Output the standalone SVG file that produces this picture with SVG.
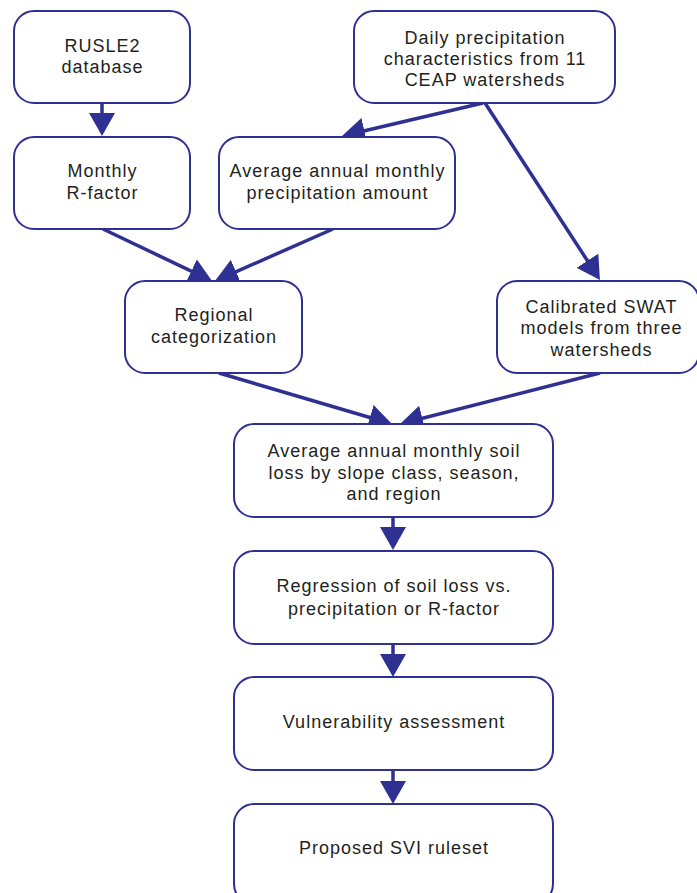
<svg xmlns="http://www.w3.org/2000/svg" width="697" height="893" viewBox="0 0 697 893">
<style>
.box{fill:#fff;stroke:#2e3192;stroke-width:2}
.lbl{font-family:"Liberation Sans",Arial,sans-serif;font-size:18px;letter-spacing:1px;fill:#231f20;text-anchor:middle}
.con{stroke:#2e3192;stroke-width:3.5;fill:none;marker-end:url(#ah)}
</style>
<defs>
<marker id="ah" viewBox="0 0 23 26" refX="15" refY="13" markerWidth="23" markerHeight="26" markerUnits="userSpaceOnUse" orient="auto">
<path d="M0,0 L23,13 L0,26 z" fill="#2e3192"/>
</marker>
</defs>
<rect width="697" height="893" fill="#fff"/>
<g id="connectors">
<line class="con" x1="102" y1="103" x2="102" y2="128"/>
<line class="con" x1="483" y1="103" x2="349.8" y2="134.2"/>
<line class="con" x1="485" y1="103" x2="595.6" y2="273.3"/>
<line class="con" x1="103" y1="229" x2="204.8" y2="277.6"/>
<line class="con" x1="333" y1="229" x2="222.3" y2="277.8"/>
<line class="con" x1="219" y1="373" x2="384.3" y2="421.7"/>
<line class="con" x1="600" y1="373" x2="407.8" y2="422"/>
<line class="con" x1="393" y1="517" x2="393" y2="542"/>
<line class="con" x1="393" y1="644" x2="393" y2="669"/>
<line class="con" x1="393" y1="771" x2="393" y2="796"/>
</g>
<g id="rusle2">
<rect class="box" x="14" y="11" width="176" height="92" rx="20"/>
<text class="lbl" x="102.5" y="52">RUSLE2</text>
<text class="lbl" x="102.5" y="73">database</text>
</g>
<g id="daily">
<rect class="box" x="354" y="11" width="261" height="92" rx="20"/>
<text class="lbl" x="485" y="44">Daily precipitation</text>
<text class="lbl" x="485" y="65">characteristics from 11</text>
<text class="lbl" x="485" y="86">CEAP watersheds</text>
</g>
<g id="rfactor">
<rect class="box" x="14" y="137" width="176" height="92" rx="20"/>
<text class="lbl" x="102.5" y="177">Monthly</text>
<text class="lbl" x="102.5" y="199">R-factor</text>
</g>
<g id="avgprecip">
<rect class="box" x="219" y="137" width="236" height="92" rx="20"/>
<text class="lbl" x="337.5" y="177">Average annual monthly</text>
<text class="lbl" x="337.5" y="199">precipitation amount</text>
</g>
<g id="regional">
<rect class="box" x="125" y="281" width="177" height="92" rx="20"/>
<text class="lbl" x="214" y="321">Regional</text>
<text class="lbl" x="214" y="343">categorization</text>
</g>
<g id="swat">
<rect class="box" x="497" y="281" width="202" height="92" rx="20"/>
<text class="lbl" x="601.5" y="313">Calibrated SWAT</text>
<text class="lbl" x="601.5" y="334">models from three</text>
<text class="lbl" x="601.5" y="356">watersheds</text>
</g>
<g id="soilloss">
<rect class="box" x="234" y="424" width="319" height="93" rx="20"/>
<text class="lbl" x="394" y="457">Average annual monthly soil</text>
<text class="lbl" x="394" y="479">loss by slope class, season,</text>
<text class="lbl" x="394" y="500">and region</text>
</g>
<g id="regression">
<rect class="box" x="234" y="551" width="319" height="93" rx="20"/>
<text class="lbl" x="394" y="592">Regression of soil loss vs.</text>
<text class="lbl" x="394" y="615">precipitation or R-factor</text>
</g>
<g id="vulnerability">
<rect class="box" x="234" y="677" width="319" height="93" rx="20"/>
<text class="lbl" x="394" y="728">Vulnerability assessment</text>
</g>
<g id="proposed">
<rect class="box" x="234" y="804" width="319" height="100" rx="20"/>
<text class="lbl" x="394" y="854">Proposed SVI ruleset</text>
</g>
</svg>
